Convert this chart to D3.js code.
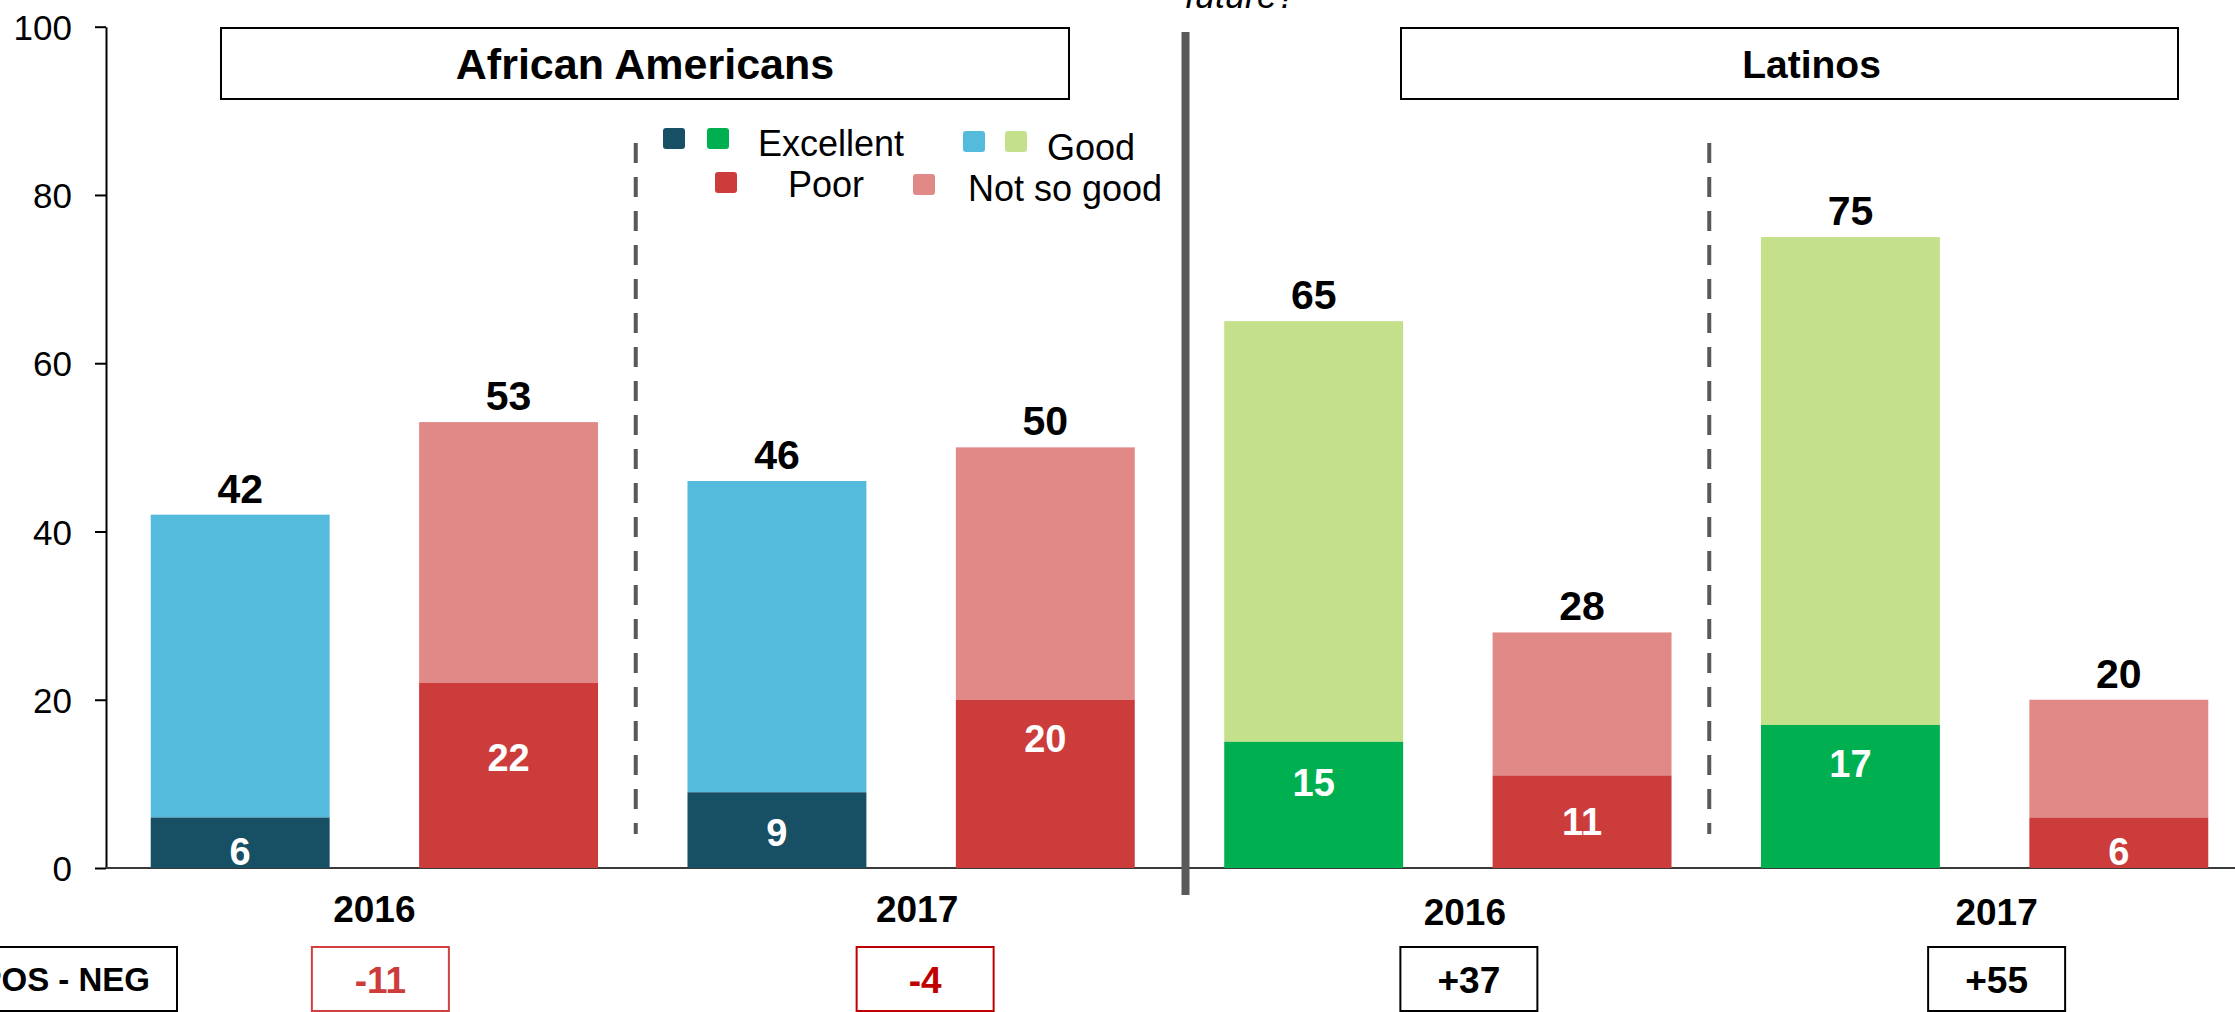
<!DOCTYPE html>
<html lang="en">
<head>
<meta charset="utf-8">
<title>Economy ratings - African Americans and Latinos</title>
<script src="https://cdn.jsdelivr.net/npm/d3@7/dist/d3.min.js"></script>
<style>
  body { margin: 0; background: #fff; }
  svg text { font-family: "Liberation Sans", Arial, sans-serif; }
</style>
</head>
<body>
<svg id="chart" width="2235" height="1012"></svg>
<script>
// ---- data ----
const groups = ["African Americans", "Latinos"];
const years = ["2016", "2017"];
const bars = ["aa16pos", "aa16neg", "aa17pos", "aa17neg", "la16pos", "la16neg", "la17pos", "la17neg"];
const strongShare = [6, 22, 9, 20, 15, 11, 17, 6];      // Excellent / Poor
const totalShare = [42, 53, 46, 50, 65, 28, 75, 20];    // Excellent+Good / Poor+Not so good
const innerLabelAt = [2, 13.1, 4.3, 15.4, 10.2, 5.6, 12.5, 2]; // where the white labels sit (chart units)
const netScores = ["-11", "-4", "+37", "+55"];
const yTicks = [0, 20, 40, 60, 80, 100];

// colours: [strong, weak] per group and sign
const palette = {
  aa: { pos: ["#175064", "#54bbdd"], neg: ["#cb3c3b", "#e08987"] },
  la: { pos: ["#00b050", "#c5e08b"], neg: ["#cb3c3b", "#e08987"] }
};

let svg = d3.select("#chart");

let x = d3.scaleBand()
  .domain(bars)
  .range([106, 2253])
  .paddingInner(1 / 3)
  .paddingOuter(1 / 6);

let y = d3.scaleLinear()
  .domain([0, 100])
  .range([868, 26.7]);

// ---- axes ----
let yAxis = svg.append("g")
  .attr("transform", "translate(106,0)")
  .call(d3.axisLeft(y).tickValues(yTicks).tickSize(11).tickSizeOuter(0).tickPadding(23));
yAxis.select(".domain").attr("stroke", "#000").attr("stroke-width", 2);
yAxis.selectAll(".tick line").attr("stroke", "#000").attr("stroke-width", 2);
yAxis.selectAll(".tick text")
  .attr("fill", "#000")
  .style("font-size", "35px")
  .attr("dy", "0.36em");

svg.append("line")
  .attr("x1", 106).attr("x2", 2235)
  .attr("y1", y(0)).attr("y2", y(0))
  .attr("stroke", "#3a3a3a")
  .attr("stroke-width", 2);

// ---- stacked bars ----
let rows = bars.map((id, i) => ({
  id: id,
  grp: id.slice(0, 2),
  sign: id.slice(4),
  strong: strongShare[i],
  total: totalShare[i],
  labelAt: innerLabelAt[i]
}));

let barG = svg.append("g");

barG.selectAll(".weak")
  .data(rows)
  .enter()
  .append("rect")
  .attr("class", "weak")
  .attr("x", d => x(d.id))
  .attr("width", x.bandwidth())
  .attr("y", d => y(d.total))
  .attr("height", d => y(d.strong) - y(d.total))
  .attr("fill", d => palette[d.grp][d.sign][1]);

barG.selectAll(".strong")
  .data(rows)
  .enter()
  .append("rect")
  .attr("class", "strong")
  .attr("x", d => x(d.id))
  .attr("width", x.bandwidth())
  .attr("y", d => y(d.strong))
  .attr("height", d => y(0) - y(d.strong))
  .attr("fill", d => palette[d.grp][d.sign][0]);

// white value inside the dark segment
barG.selectAll(".inner")
  .data(rows)
  .enter()
  .append("text")
  .attr("class", "inner")
  .attr("x", d => x(d.id) + x.bandwidth() / 2)
  .attr("y", d => y(d.labelAt))
  .attr("dy", "0.36em")
  .attr("text-anchor", "middle")
  .attr("fill", "#fff")
  .style("font-size", "38px")
  .style("font-weight", "bold")
  .text(d => d.strong);

// total on top
barG.selectAll(".total")
  .data(rows)
  .enter()
  .append("text")
  .attr("class", "total")
  .attr("x", d => x(d.id) + x.bandwidth() / 2)
  .attr("y", d => y(d.total) - 12)
  .attr("text-anchor", "middle")
  .attr("fill", "#000")
  .style("font-size", "41px")
  .style("font-weight", "bold")
  .text(d => d.total);

// ---- separators ----
const step = x.step();
// dashed line between years inside each group
[bars[2], bars[6]].forEach(b => {
  svg.append("line")
    .attr("x1", x(b) - (step - x.bandwidth()) / 2 - 7)
    .attr("x2", x(b) - (step - x.bandwidth()) / 2 - 7)
    .attr("y1", 143).attr("y2", 834)
    .attr("stroke", "#595959")
    .attr("stroke-width", 4)
    .attr("stroke-dasharray", "20,14");
});
// solid divider between groups
let divX = x(bars[4]) - (step - x.bandwidth()) / 2 + 6;
svg.append("line")
  .attr("x1", divX).attr("x2", divX)
  .attr("y1", 32).attr("y2", 895)
  .attr("stroke", "#595959")
  .attr("stroke-width", 8);

// ---- group title boxes ----
const titleBoxes = [[221, 1069], [1401, 2178]];
const titleSize = [43, 39];
groups.forEach((g, i) => {
  let [x0, x1] = titleBoxes[i];
  svg.append("rect")
    .attr("x", x0).attr("y", 28)
    .attr("width", x1 - x0).attr("height", 71)
    .attr("fill", "#fff")
    .attr("stroke", "#000")
    .attr("stroke-width", 2);
  svg.append("text")
    .attr("x", (x0 + x1) / 2 + (i == 1 ? 22 : 0))
    .attr("y", 64)
    .attr("dy", "0.36em")
    .attr("text-anchor", "middle")
    .style("font-size", titleSize[i] + "px")
    .style("font-weight", "bold")
    .text(g);
});

// ---- year labels and net score boxes ----
const labelShift = [0, 6, 17, 12];
const boxShift = [6, 14, 21, 12];
for (let p = 0; p < 4; p++) {
  let mid = (x(bars[2 * p]) + x(bars[2 * p + 1]) + x.bandwidth()) / 2;
  let cx = mid + labelShift[p];
  let bx = mid + boxShift[p];
  let base = p < 2 ? 922 : 925;
  svg.append("text")
    .attr("x", cx).attr("y", base)
    .attr("text-anchor", "middle")
    .style("font-size", "37px")
    .style("font-weight", "bold")
    .text(years[p % 2]);

  let neg = netScores[p].startsWith("-");
  svg.append("rect")
    .attr("x", bx - 68.5).attr("y", 947)
    .attr("width", 137).attr("height", 64)
    .attr("fill", "#fff")
    .attr("stroke", neg ? (p == 0 ? "#d0403f" : "#c00000") : "#000")
    .attr("stroke-width", 2);
  svg.append("text")
    .attr("x", bx).attr("y", 993)
    .attr("text-anchor", "middle")
    .attr("fill", neg ? (p == 0 ? "#cb3c3b" : "#c00000") : "#000")
    .style("font-size", "37px")
    .style("font-weight", "bold")
    .text(netScores[p]);
}

// "POS - NEG" box, cut at the left edge
svg.append("rect")
  .attr("x", -80).attr("y", 947)
  .attr("width", 257).attr("height", 64)
  .attr("fill", "#fff")
  .attr("stroke", "#000")
  .attr("stroke-width", 2);
svg.append("text")
  .attr("x", 150).attr("y", 991)
  .attr("text-anchor", "end")
  .style("font-size", "33px")
  .style("font-weight", "bold")
  .text("POS - NEG");

// question text cut at the top
svg.append("text")
  .attr("x", 1185).attr("y", 8)
  .style("font-size", "36px")
  .style("font-style", "italic")
  .text("future?");

// ---- legend ----
const legendItems = [
  { label: "Excellent", colors: [palette.aa.pos[0], palette.la.pos[0]], sq: [663, 707], sy: 128, tx: 758, ty: 156 },
  { label: "Good", colors: [palette.aa.pos[1], palette.la.pos[1]], sq: [963, 1005], sy: 131, tx: 1047, ty: 160 },
  { label: "Poor", colors: [palette.aa.neg[0]], sq: [715], sy: 172, tx: 788, ty: 197 },
  { label: "Not so good", colors: [palette.aa.neg[1]], sq: [913], sy: 174, tx: 968, ty: 201 }
];
let legend = svg.append("g");
legendItems.forEach(item => {
  item.colors.forEach((c, k) => {
    legend.append("rect")
      .attr("x", item.sq[k]).attr("y", item.sy)
      .attr("width", 22).attr("height", 21)
      .attr("rx", 3)
      .attr("fill", c);
  });
  legend.append("text")
    .attr("x", item.tx).attr("y", item.ty)
    .style("font-size", "36px")
    .text(item.label);
});
</script>
</body>
</html>
